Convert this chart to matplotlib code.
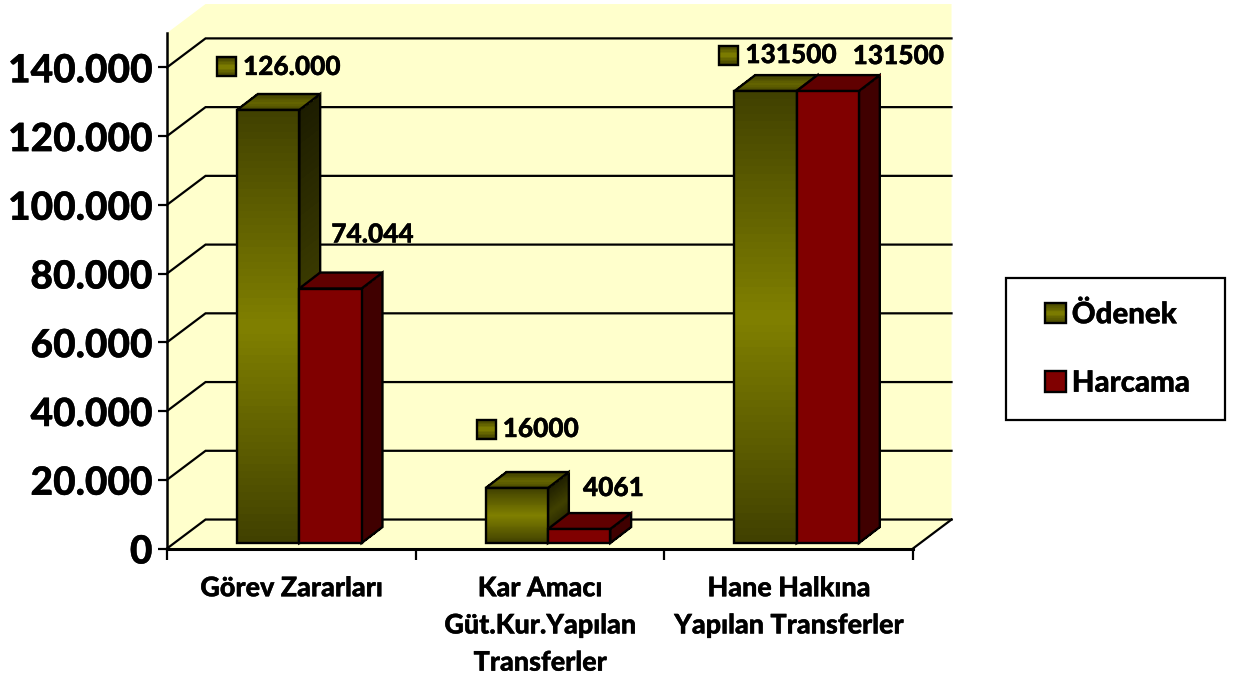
import numpy as np
import matplotlib
matplotlib.use('Agg')
import matplotlib.pyplot as plt
import matplotlib.patheffects as pe
from matplotlib.collections import PolyCollection
from matplotlib.colors import to_rgb
from matplotlib.legend_handler import HandlerBase
from matplotlib.patches import Patch, Polygon, Rectangle
from matplotlib.transforms import IdentityTransform

plt.rcParams['font.family'] = ['Lato', 'DejaVu Sans']
plt.rcParams['font.weight'] = 900

# Data
categories = ['Görev Zararları', 'Kar Amacı\nGüt.Kur.Yapılan\nTransferler', 'Hane Halkına\nYapılan Transferler']
series_names = ['Ödenek', 'Harcama']
odenek = [126000, 16000, 131500]
harcama = [74044, 4061, 131500]
odenek_labels = ['126.000', '16000', '131500']
harcama_labels = ['74.044', '4061', '131500']
y_ticks = [0, 20000, 40000, 60000, 80000, 100000, 120000, 140000]
y_tick_labels = ['0', '20.000', '40.000', '60.000', '80.000', '100.000', '120.000', '140.000']

# 3D look, in axis units
WALL_DX, WALL_DY = 0.155, 8430
BAR_DX, BAR_DY = 0.084, 4650
BAR_LEFT, BAR_W = 0.2815, 0.2505
BAR_BASE = 1600
YMAX = 150000
WALL = '#FFFFCC'

# label offsets from the front top left corner of each bar, pixels
odenek_offsets = [(6, 43), (17, 59), (11, 36)]
harcama_offsets = [(32, 54), (35, 41), (56, 35)]

fig = plt.figure(figsize=(12.35, 6.79), dpi=100)
ax = fig.add_axes([167 / 1235, 1 - 548.5 / 679, 746 / 1235, 515.5 / 679])
ax.set_xlim(0, 3)
ax.set_ylim(0, YMAX)
ax.patch.set_visible(False)

face_z = [3.0]
thicker = [pe.withStroke(linewidth=0.25, foreground='black')]


def shaded(quad, dark, mid, n=60, transform=None):
    # quad = top left, top right, bottom right, bottom left. dark-mid-dark from top to bottom
    quad = np.array(quad, dtype=float)
    polys, cols = [], []
    d, m = np.array(to_rgb(dark)), np.array(to_rgb(mid))
    for i in range(n):
        a, b = i / n, (i + 1) / n
        polys.append([quad[0] + (quad[3] - quad[0]) * a, quad[1] + (quad[2] - quad[1]) * a,
                      quad[1] + (quad[2] - quad[1]) * b, quad[0] + (quad[3] - quad[0]) * b])
        t = 1 - abs((a + b) - 1)
        cols.append(d + (m - d) * t)
    face_z[0] += 0.01
    pc = PolyCollection(polys, facecolors=cols, edgecolors=cols, linewidths=0.6, zorder=face_z[0],
                        clip_on=False, antialiaseds=False)
    if transform is not None:
        pc.set_transform(transform)
    ax.add_collection(pc, autolim=False)
    face_z[0] += 0.01
    ol = Polygon(quad, closed=True, fill=False, edgecolor='black', lw=1.7, zorder=face_z[0],
                 clip_on=False, joinstyle='miter')
    if transform is not None:
        ol.set_transform(transform)
    ax.add_patch(ol)


def bar3d(x, w, v, front, side, top):
    y0, y1 = BAR_BASE, BAR_BASE + v
    dx, dy = BAR_DX, BAR_DY
    shaded([(x + w, y1), (x + w + dx, y1 + dy), (x + w + dx, y0 + dy), (x + w, y0)], side[0], side[1])
    shaded([(x, y1), (x + w, y1), (x + w + dx, y1 + dy), (x + dx, y1 + dy)], top[0], top[1], n=12)
    shaded([(x, y1), (x + w, y1), (x + w, y0), (x, y0)], front[0], front[1])


def bar_label(x, v, text, off, swatch=False):
    ax.annotate(text, xy=(x, BAR_BASE + v), xytext=off, textcoords='offset pixels', ha='left', va='center',
                fontsize=18.9, color='black', zorder=6, annotation_clip=False, path_effects=thicker)
    if swatch:
        px, py = ax.transData.transform((x, BAR_BASE + v))
        l, r = px + off[0] - 26, px + off[0] - 7
        t, b = py + off[1] + 9.5, py + off[1] - 9.5
        shaded([(l, t), (r, t), (r, b), (l, b)], '#404000', '#808000', n=12, transform=IdentityTransform())


# walls and floor
ax.add_patch(Polygon([(0, YMAX), (WALL_DX, YMAX + WALL_DY), (3 + WALL_DX, YMAX + WALL_DY), (3 + WALL_DX, WALL_DY),
                      (3, 0), (0, 0)], closed=True, fc=WALL, ec='none', zorder=0, clip_on=False))
for v in y_ticks:
    ax.plot([0, WALL_DX, 3 + WALL_DX], [v, v + WALL_DY, v + WALL_DY], color='black', lw=1.6, zorder=1,
            clip_on=False, solid_joinstyle='miter')
ax.plot([3, 3 + WALL_DX], [0, WALL_DY], color='black', lw=1.6, zorder=1, clip_on=False)

# bars
for i in range(3):
    x = i + BAR_LEFT
    bar3d(x, BAR_W, odenek[i], ('#404000', '#808000'), ('#1c1c00', '#404000'), ('#404000', '#666600'))
    bar3d(x + BAR_W, BAR_W, harcama[i], ('#800000', '#800000'), ('#400000', '#400000'), ('#600000', '#600000'))

fig.canvas.draw()
for i in range(3):
    x = i + BAR_LEFT
    bar_label(x, odenek[i], odenek_labels[i], odenek_offsets[i], True)
    bar_label(x + BAR_W, harcama[i], harcama_labels[i], harcama_offsets[i])

# axes
for s in ['top', 'right']:
    ax.spines[s].set_visible(False)
ax.spines['left'].set_linewidth(1.8)
ax.spines['bottom'].set_linewidth(2.2)
ax.spines['left'].set_zorder(5)
ax.spines['bottom'].set_zorder(5)
ax.set_yticks(y_ticks)
ax.set_yticklabels(y_tick_labels, fontsize=28, path_effects=thicker)
ax.tick_params(axis='y', length=6.5, width=1.6, pad=4)
ax.set_xticks([0, 1, 2, 3])
ax.set_xticklabels([])
ax.set_xticks([0.5, 1.5, 2.5], minor=True)
ax.set_xticklabels(categories, minor=True, fontsize=19.4, linespacing=1.66, path_effects=thicker)
ax.tick_params(axis='x', which='major', length=8, width=1.6)
ax.tick_params(axis='x', which='minor', length=0, pad=20)


class GradHandler(HandlerBase):
    # legend key with the same dark-mid-dark fill as the bars
    def create_artists(self, legend, orig, xd, yd, w, h, fontsize, trans):
        d, m = np.array(to_rgb(orig.grad[0])), np.array(to_rgb(orig.grad[1]))
        n = 12
        x0, y0 = -xd, -yd + (h - w) / 2
        polys, cols = [], []
        for i in range(n):
            a, b = i / n, (i + 1) / n
            polys.append([(x0, y0 + w * a), (x0 + w, y0 + w * a), (x0 + w, y0 + w * b), (x0, y0 + w * b)])
            cols.append(d + (m - d) * (1 - abs(a + b - 1)))
        pc = PolyCollection(polys, facecolors=cols, edgecolors=cols, linewidths=0.3, transform=trans)
        ol = Polygon([(x0, y0), (x0 + w, y0), (x0 + w, y0 + w), (x0, y0 + w)], closed=True, fill=False,
                     edgecolor='black', lw=1.7, transform=trans)
        return [pc, ol]


fig.add_artist(Rectangle((1006 / 1235, 1 - 420 / 679), 219 / 1235, 142 / 679, transform=fig.transFigure,
                         fc='white', ec='black', lw=1.6))
h1 = Patch(label=series_names[0])
h1.grad = ('#404000', '#808000')
h2 = Patch(label=series_names[1])
h2.grad = ('#800000', '#800000')
leg = fig.legend(handles=[h1, h2], loc='center', bbox_to_anchor=(1117.5 / 1235, 1 - 349.5 / 679),
                 fontsize=21.2, frameon=False, borderpad=0, labelspacing=1.44, handlelength=0.7,
                 handleheight=0.7, handletextpad=0.2, borderaxespad=0, handler_map={Patch: GradHandler()})
for t in leg.get_texts():
    t.set_path_effects(thicker)

plt.savefig('out.png', dpi=100)
